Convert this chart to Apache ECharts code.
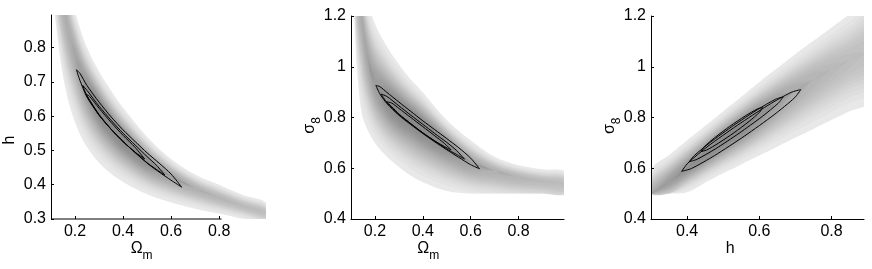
<!DOCTYPE html>
<html>
<head>
<meta charset="utf-8">
<script src="https://cdn.jsdelivr.net/npm/echarts@6/dist/echarts.min.js"></script>
<style>
html, body { margin: 0; padding: 0; background: #fff; }
#chart { width: 872px; height: 269px; }
</style>
</head>
<body>
<div id="chart"></div>
<script>
// panel 1: Omega_m against h
var p1X     = [0.11, 0.12, 0.14, 0.16, 0.18, 0.2, 0.22, 0.25, 0.3, 0.35, 0.4, 0.5, 0.6, 0.7, 0.8, 0.9, 1.0];
var p1Mid   = [1.08, 1.03, 0.955, 0.89, 0.83, 0.78, 0.735, 0.685, 0.625, 0.575, 0.535, 0.47, 0.425, 0.39, 0.362, 0.338, 0.318];
var p1Lo    = [0.94, 0.87, 0.76, 0.68, 0.624, 0.582, 0.548, 0.509, 0.464, 0.432, 0.408, 0.372, 0.348, 0.33, 0.315, 0.3, 0.287];
var p1Hi    = [1.25, 1.2, 1.11, 1.03, 0.964, 0.906, 0.858, 0.8, 0.73, 0.675, 0.625, 0.54, 0.475, 0.43, 0.4, 0.37, 0.345];
var p1Depth = [0.55, 0.55, 0.56, 0.58, 0.6, 0.65, 0.72, 0.85, 1.0, 1.0, 1.0, 0.9, 0.7, 0.55, 0.5, 0.45, 0.42];
var p1Outer = [[0.206,0.735],[0.22,0.725],[0.25,0.689],[0.3,0.641],[0.35,0.598],[0.4,0.56],[0.45,0.526],[0.5,0.493],[0.55,0.463],[0.6,0.431],[0.644,0.393],
               [0.6,0.413],[0.55,0.437],[0.5,0.463],[0.45,0.494],[0.4,0.526],[0.35,0.562],[0.3,0.603],[0.25,0.655],[0.22,0.705],[0.206,0.735]];
var p1Middle = [[0.232,0.69],[0.25,0.675],[0.3,0.629],[0.35,0.588],[0.4,0.55],[0.45,0.516],[0.5,0.482],[0.54,0.456],[0.574,0.428],
                [0.54,0.444],[0.5,0.464],[0.45,0.494],[0.4,0.526],[0.35,0.562],[0.3,0.603],[0.25,0.659],[0.232,0.69]];
var p1Inner = [[0.246,0.664],[0.26,0.658],[0.3,0.623],[0.35,0.582],[0.4,0.544],[0.45,0.509],[0.49,0.475],
               [0.45,0.495],[0.4,0.526],[0.35,0.562],[0.3,0.605],[0.26,0.648],[0.246,0.664]];
var p1XTicks = [0.2, 0.4, 0.6, 0.8];
var p1YTicks = [0.3, 0.4, 0.5, 0.6, 0.7, 0.8];
var p1XAxisEnd = 0.81;

// panel 2: Omega_m against sigma_8
var p2X     = [0.11, 0.12, 0.13, 0.145, 0.165, 0.2, 0.25, 0.3, 0.35, 0.4, 0.5, 0.6, 0.7, 0.8, 0.9, 1.0];
var p2Mid   = [1.45, 1.38, 1.3, 1.2, 1.06, 0.935, 0.87, 0.83, 0.8, 0.765, 0.695, 0.625, 0.59, 0.565, 0.55, 0.54];
var p2Lo    = [1.3, 1.06, 0.93, 0.815, 0.76, 0.7, 0.645, 0.605, 0.57, 0.545, 0.51, 0.49, 0.48, 0.475, 0.47, 0.465];
var p2Hi    = [2.0, 1.8, 1.6, 1.4, 1.28, 1.17, 1.08, 1.01, 0.95, 0.9, 0.79, 0.71, 0.645, 0.612, 0.596, 0.584];
var p2Depth = [0.6, 0.6, 0.6, 0.62, 0.65, 0.75, 0.92, 1.0, 1.0, 1.0, 0.9, 0.7, 0.55, 0.5, 0.45, 0.42];
var p2Outer = [[0.204,0.926],[0.22,0.922],[0.25,0.899],[0.3,0.861],[0.35,0.824],[0.4,0.787],[0.45,0.752],[0.5,0.717],[0.55,0.681],[0.6,0.64],[0.637,0.598],
               [0.6,0.614],[0.55,0.643],[0.5,0.673],[0.45,0.704],[0.4,0.737],[0.35,0.772],[0.3,0.809],[0.25,0.855],[0.22,0.894],[0.204,0.926]];
var p2Middle = [[0.226,0.892],[0.25,0.883],[0.3,0.846],[0.35,0.809],[0.4,0.773],[0.45,0.737],[0.5,0.702],[0.54,0.671],[0.574,0.636],
                [0.54,0.655],[0.5,0.676],[0.45,0.707],[0.4,0.739],[0.35,0.775],[0.3,0.812],[0.25,0.859],[0.226,0.892]];
var p2Inner = [[0.247,0.862],[0.27,0.857],[0.3,0.836],[0.35,0.8],[0.4,0.764],[0.45,0.728],[0.49,0.698],[0.519,0.672],
               [0.49,0.686],[0.45,0.708],[0.4,0.74],[0.35,0.776],[0.3,0.814],[0.27,0.843],[0.247,0.862]];
var p2XTicks = [0.2, 0.4, 0.6, 0.8];
var p2YTicks = [0.4, 0.6, 0.8, 1, 1.2];
var p2Floor = 0.5;

// panel 3: h against sigma_8
var p3X     = [0.3, 0.35, 0.4, 0.45, 0.5, 0.55, 0.6, 0.65, 0.7, 0.75, 0.8, 0.85, 0.9];
var p3Mid   = [0.49, 0.545, 0.6, 0.655, 0.71, 0.76, 0.81, 0.86, 0.905, 0.95, 0.99, 1.025, 1.06];
var p3Lo    = [0.43, 0.467, 0.505, 0.543, 0.58, 0.615, 0.65, 0.685, 0.72, 0.755, 0.79, 0.825, 0.86];
var p3Hi    = [0.595, 0.652, 0.71, 0.767, 0.825, 0.882, 0.94, 0.995, 1.05, 1.102, 1.155, 1.207, 1.26];
var p3Depth = [0.65, 0.75, 0.85, 0.95, 1.0, 1.0, 0.88, 0.72, 0.6, 0.52, 0.46, 0.42, 0.4];
var p3Outer = [[0.715,0.91],[0.698,0.878],[0.641,0.811],[0.56,0.728],[0.476,0.65],[0.412,0.599],[0.385,0.588],
               [0.402,0.62],[0.458,0.687],[0.54,0.77],[0.624,0.848],[0.688,0.899],[0.715,0.91]];
var p3Middle = [[0.666,0.881],[0.653,0.857],[0.608,0.804],[0.544,0.738],[0.478,0.676],[0.427,0.635],[0.406,0.626],
                [0.42,0.65],[0.465,0.703],[0.529,0.769],[0.595,0.831],[0.645,0.872],[0.666,0.881]];
var p3Inner = [[0.609,0.839],[0.601,0.821],[0.572,0.785],[0.53,0.74],[0.487,0.699],[0.453,0.671],[0.439,0.666],
               [0.447,0.684],[0.476,0.72],[0.518,0.765],[0.561,0.806],[0.595,0.834],[0.609,0.839]];
var p3XTicks = [0.4, 0.6, 0.8];
var p3YTicks = [0.4, 0.6, 0.8, 1, 1.2];
var p3Floor = 0.5;

var FONT = 'Liberation Sans';
var LEVELS = 24;
var LEVEL_ALPHA = 0.0197;
var BASE_ALPHA = 0.07;

var chart = echarts.init(document.getElementById('chart'));

// grey likelihood band: a light base plus stacked translucent polygons around the ridge
function bandSeries(gi, xs, mid, lo, hi, depth, floor) {
    return {
        type: 'custom',
        xAxisIndex: gi,
        yAxisIndex: gi,
        clip: true,
        silent: true,
        z: 1,
        data: [[xs[0], mid[0]]],
        renderItem: function (params, api) {
            var children = [];
            var tau0 = 1 / (LEVELS + 1);
            for (var k = -1; k < LEVELS; k++) {
                var tau = (k + 1) / (LEVELS + 1);
                var up = [], dn = [];
                for (var i = 0; i < xs.length; i++) {
                    var a = depth[i], f = 0;
                    if (k < 0) f = 1;
                    else if (a > tau) f = Math.sqrt(Math.log(a / tau) / Math.log(a / tau0));
                    var yu = mid[i] + f * (hi[i] - mid[i]);
                    var yd = mid[i] - f * (mid[i] - lo[i]);
                    if (floor != null) {
                        yu = Math.max(yu, floor);
                        yd = Math.max(yd, floor);
                    }
                    up.push(api.coord([xs[i], yu]));
                    dn.unshift(api.coord([xs[i], yd]));
                }
                children.push({
                    type: 'polygon',
                    shape: { points: up.concat(dn), smooth: 0.35 },
                    style: { fill: 'rgba(0,0,0,' + (k < 0 ? BASE_ALPHA : LEVEL_ALPHA) + ')' }
                });
            }
            return { type: 'group', children: children };
        }
    };
}

function contour(gi, pts) {
    return {
        type: 'line',
        xAxisIndex: gi,
        yAxisIndex: gi,
        data: pts,
        smooth: 0.25,
        symbol: 'none',
        silent: true,
        z: 3,
        lineStyle: { color: '#000', width: 1 }
    };
}

function xAxisCfg(gi, min, max, ticks, showLine) {
    return {
        type: 'value', gridIndex: gi, min: min, max: max, z: 5,
        axisLine: { show: showLine, lineStyle: { color: '#000', width: 1 } },
        axisTick: { inside: true, length: 3, customValues: ticks, lineStyle: { color: '#000' } },
        axisLabel: { customValues: ticks, color: '#000', fontSize: 16, fontFamily: FONT, margin: 5 },
        splitLine: { show: false }
    };
}

function yAxisCfg(gi, min, max, ticks) {
    return {
        type: 'value', gridIndex: gi, min: min, max: max, z: 5,
        axisLine: { show: true, lineStyle: { color: '#000', width: 1 } },
        axisTick: { inside: true, length: 3, customValues: ticks, lineStyle: { color: '#000' } },
        axisLabel: { customValues: ticks, color: '#000', fontSize: 16, fontFamily: FONT, margin: 5 },
        splitLine: { show: false }
    };
}

function txt(x, y, s, size, rot) {
    return {
        type: 'text', x: x, y: y, rotation: rot || 0, silent: true,
        style: { text: s, fontSize: size, fontFamily: FONT, fill: '#000', align: 'center', verticalAlign: 'middle' }
    };
}

var option = {
    animation: false,
    backgroundColor: '#fff',
    grid: [
        { left: 51, top: 15, width: 215, height: 204 },
        { left: 351, top: 16, width: 213, height: 203 },
        { left: 651, top: 16, width: 213, height: 203 }
    ],
    xAxis: [
        xAxisCfg(0, 0.1, 0.995, p1XTicks, false),
        xAxisCfg(1, 0.1, 0.99, p2XTicks, true),
        xAxisCfg(2, 0.3, 0.89, p3XTicks, true)
    ],
    yAxis: [
        yAxisCfg(0, 0.3, 0.895, p1YTicks),
        yAxisCfg(1, 0.4, 1.2, p2YTicks),
        yAxisCfg(2, 0.4, 1.2, p3YTicks)
    ],
    series: [
        bandSeries(0, p1X, p1Mid, p1Lo, p1Hi, p1Depth, null),
        bandSeries(1, p2X, p2Mid, p2Lo, p2Hi, p2Depth, p2Floor),
        bandSeries(2, p3X, p3Mid, p3Lo, p3Hi, p3Depth, p3Floor),
        contour(0, p1Outer), contour(0, p1Middle), contour(0, p1Inner),
        contour(1, p2Outer), contour(1, p2Middle), contour(1, p2Inner),
        contour(2, p3Outer), contour(2, p3Middle), contour(2, p3Inner),
        {
            // the first panel's x axis line stops short of the grey band
            type: 'line', xAxisIndex: 0, yAxisIndex: 0, clip: false, silent: true, z: 6,
            symbol: 'none', lineStyle: { color: '#000', width: 1 },
            data: [[0.1, p1YTicks[0]], [p1XAxisEnd, p1YTicks[0]]]
        }
    ],
    graphic: [
        txt(10, 140, 'h', 16, Math.PI / 2),
        txt(136.7, 248.3, 'Ω', 16), txt(147.5, 255.5, 'm', 12),
        txt(310, 128.7, 'σ', 16, Math.PI / 2), txt(316.5, 120.5, '8', 12, Math.PI / 2),
        txt(423.3, 248.3, 'Ω', 16), txt(434.2, 255.5, 'm', 12),
        txt(610, 129, 'σ', 16, Math.PI / 2), txt(616.5, 121, '8', 12, Math.PI / 2),
        txt(730.3, 248.3, 'h', 16)
    ]
};

chart.setOption(option);
</script>
</body>
</html>
